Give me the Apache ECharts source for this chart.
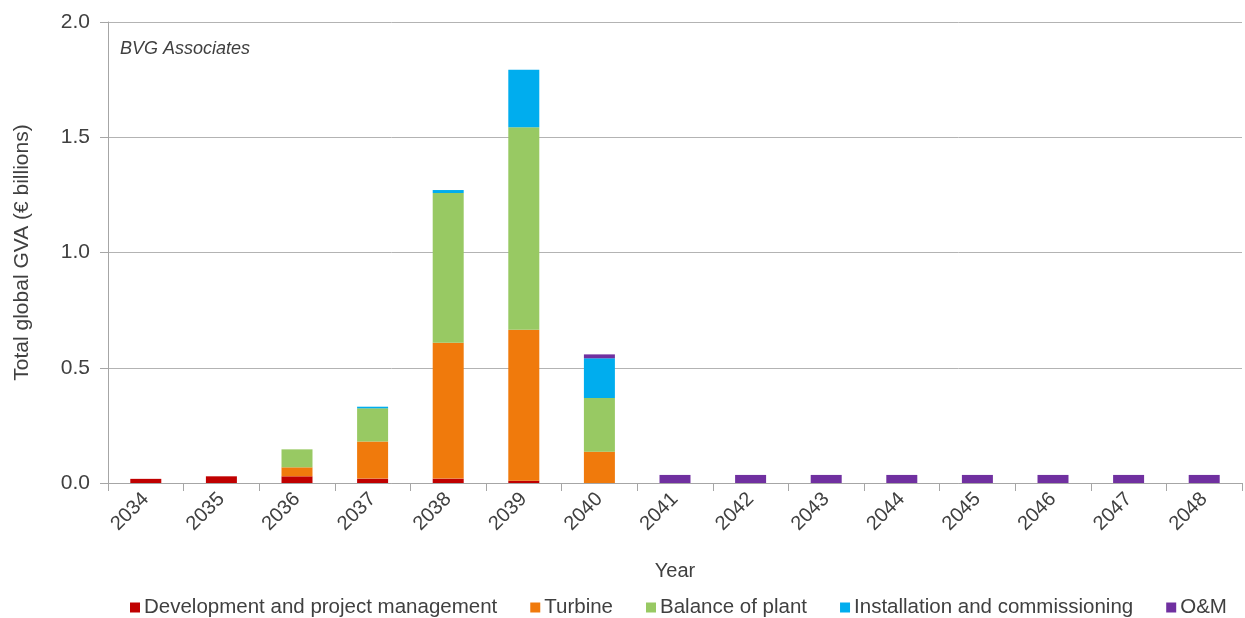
<!DOCTYPE html>
<html>
<head>
<meta charset="utf-8">
<script src="https://cdn.jsdelivr.net/npm/echarts@6/dist/echarts.min.js"></script>
<style>
  html, body { margin: 0; padding: 0; background: #fff; }
  #chart { width: 1245px; height: 618px; }
</style>
</head>
<body>
<div id="chart"></div>
<script>
// Years on the category axis
const years = ['2034', '2035', '2036', '2037', '2038', '2039', '2040', '2041',
               '2042', '2043', '2044', '2045', '2046', '2047', '2048'];

// Gross value added by supply-chain segment (€ billions)
const devAndProjectMgmt = [0.018, 0.029, 0.029, 0.019, 0.019, 0.010, 0, 0, 0, 0, 0, 0, 0, 0, 0];
const turbine           = [0, 0, 0.039, 0.161, 0.590, 0.655, 0.136, 0, 0, 0, 0, 0, 0, 0, 0];
const balanceOfPlant    = [0, 0, 0.078, 0.144, 0.649, 0.878, 0.233, 0, 0, 0, 0, 0, 0, 0, 0];
const installation      = [0, 0, 0, 0.007, 0.013, 0.250, 0.172, 0, 0, 0, 0, 0, 0, 0, 0];
const operationsMaint   = [0, 0, 0, 0, 0, 0, 0.017, 0.035, 0.035, 0.035, 0.035, 0.035, 0.035, 0.035, 0.035];

// Value axis ticks
const yTicks = [0, 0.5, 1.0, 1.5, 2.0];

const seriesDefs = [
  { name: 'Development and project management', data: devAndProjectMgmt, color: '#C00000' },
  { name: 'Turbine', data: turbine, color: '#F07A0C' },
  { name: 'Balance of plant', data: balanceOfPlant, color: '#98C963' },
  { name: 'Installation and commissioning', data: installation, color: '#00ADEE' },
  { name: 'O&M', data: operationsMaint, color: '#7030A0' }
];

const FONT = '"Liberation Sans", Arial, sans-serif';
const TXT = '#404040';

const chart = echarts.init(document.getElementById('chart'), null, { renderer: 'canvas' });

chart.setOption({
  animation: false,
  textStyle: { fontFamily: FONT },
  grid: { left: 108, right: 3, top: 22, bottom: 135, containLabel: false },
  graphic: [{
    type: 'text',
    left: 120,
    top: 40,
    style: {
      text: 'BVG Associates',
      font: 'italic 18px ' + FONT,
      fill: '#404040'
    }
  }],
  legend: {
    left: 125,
    top: 592,
    itemWidth: 10,
    itemHeight: 10,
    itemGap: 33,
    icon: 'rect',
    textStyle: { fontSize: 20.5, color: TXT, fontFamily: FONT, padding: [0, 0, 0, -1] },
    data: seriesDefs.map(s => s.name)
  },
  xAxis: {
    type: 'category',
    data: years,
    name: 'Year',
    nameLocation: 'middle',
    nameGap: 78,
    nameTextStyle: { fontSize: 20, color: TXT, fontFamily: FONT },
    axisLine: { lineStyle: { color: '#a6a6a6', width: 1 } },
    axisTick: { show: true, alignWithLabel: false, length: 8, lineStyle: { color: '#a6a6a6' } },
    axisLabel: { rotate: 45, fontSize: 20, color: TXT, margin: 13, fontFamily: FONT }
  },
  yAxis: {
    type: 'value',
    min: yTicks[0],
    max: yTicks[yTicks.length - 1],
    interval: 0.5,
    name: 'Total global GVA (€ billions)',
    nameLocation: 'middle',
    nameGap: 75,
    nameRotate: 90,
    nameTextStyle: { fontSize: 21, color: TXT, fontFamily: FONT },
    axisLine: { show: true, lineStyle: { color: '#a6a6a6', width: 1 } },
    axisTick: { show: true, length: 8, lineStyle: { color: '#a6a6a6' } },
    axisLabel: {
      fontSize: 21, color: TXT, margin: 18, fontFamily: FONT,
      formatter: v => v.toFixed(1)
    },
    splitLine: { show: true, lineStyle: { color: '#b3b3b3', width: 1 } }
  },
  series: seriesDefs.map(s => ({
    name: s.name,
    type: 'bar',
    stack: 'gva',
    barWidth: 31,
    data: s.data,
    itemStyle: { color: s.color },
    emphasis: { disabled: true }
  }))
});
</script>
</body>
</html>
